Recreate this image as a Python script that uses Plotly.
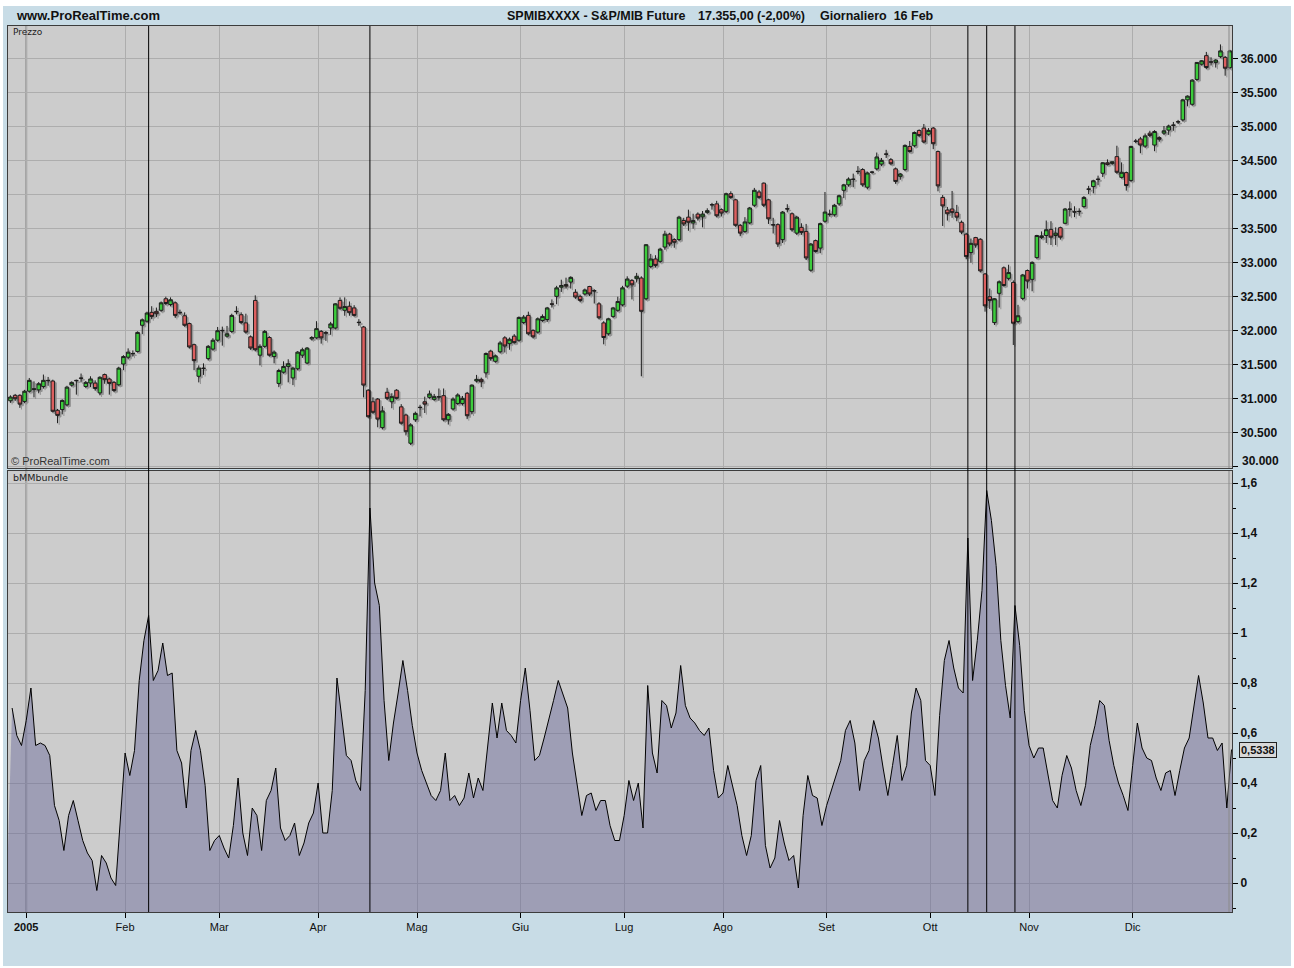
import plotly.graph_objects as go

# ---------------- data ----------------
# trading-day index of month starts (x tick positions) and their labels
month_idx = [3, 24, 44, 65, 86, 108, 130, 151, 173, 195, 216, 238]
month_labels = ["<b>2005</b>", "Feb", "Mar", "Apr", "Mag", "Giu", "Lug", "Ago", "Set", "Ott", "Nov", "Dic"]

# event (vertical black) lines, as trading-day index
event_idx = [29, 76, 203, 207, 213]

open_ = [
    30950, 31030, 31030, 30940, 31090, 31115, 31110, 31160, 31250, 31240,
    30810, 30820, 30890, 31180, 31250, 31285, 31160, 31210, 31210, 31065,
    31335, 31270, 31220, 31185, 31490, 31590, 31640, 31675, 32060, 32120,
    32250, 32265, 32280, 32450, 32365, 32390, 32250, 32200, 32085, 31775,
    31310, 31430, 31570, 31710, 31840, 31985, 31900, 31970, 32265, 32215,
    32095, 31890, 32425, 31620, 31750, 31880, 31600, 31205, 31370, 31455,
    31285, 31420, 31620, 31505, 31860, 31875, 31970, 31955, 32020, 32020,
    32425, 32280, 32340, 32315, 32105, 32035, 31105, 30935, 30975, 30555,
    31075, 30935, 31105, 30860, 30740, 30325, 30670, 30855, 30935, 31000,
    30970, 31010, 31025, 30670, 30830, 30910, 30910, 31060, 30790, 31240,
    31265, 31360, 31680, 31530, 31670, 31875, 31790, 31900, 31840, 32100,
    32205, 31985, 31960, 32130, 32145, 32375, 32485, 32620, 32660, 32695,
    32545, 32485, 32520, 32630, 32570, 32375, 32095, 31935, 32190, 32280,
    32360, 32635, 32720, 32745, 32755, 32450, 32925, 33035, 33000, 33210,
    33400, 33320, 33320, 33600, 33650, 33565, 33695, 33655, 33720, 33835,
    33845, 33760, 33735, 33995, 33905, 33530, 33440, 33565, 33825, 34020,
    34150, 33905, 33540, 33540, 33320, 33775, 33700, 33415, 33500, 33440,
    32870, 33305, 33195, 33590, 33695, 33685, 33845, 34045, 34125, 34210,
    34325, 34350, 34090, 34315, 34360, 34430, 34580, 34495, 34360, 34250,
    34350, 34690, 34700, 34925, 34960, 34870, 34960, 34615, 33940, 33755,
    33770, 33720, 33575, 33400, 33130, 33350, 33325, 32815, 32480, 32100,
    32530, 32905, 32750, 32690, 32115, 32455, 32865, 32735, 33055, 33350,
    33380, 33470, 33380, 33495, 33560, 33770, 33730, 33730, 33805, 34065,
    34100, 34210, 34295, 34450, 34440, 34540, 34235, 34305, 34190, 34770,
    34800, 34695, 34885, 34710, 34820, 34885, 34930, 35005, 35055, 35080,
    35375, 35310, 35675, 35900, 36025, 35935, 35925, 36010, 36000, 35850,
]
high_ = [
    31030, 31050, 31045, 31110, 31285, 31235, 31225, 31335, 31300, 31260,
    30830, 30970, 31170, 31235, 31260, 31350, 31240, 31310, 31250, 31310,
    31350, 31290, 31240, 31450, 31620, 31720, 31690, 31970, 32160, 32260,
    32340, 32320, 32410, 32480, 32470, 32410, 32290, 32250, 32100, 31790,
    31470, 31500, 31770, 31870, 32035, 32040, 32050, 32230, 32340, 32250,
    32230, 31910, 32500, 31780, 31990, 31900, 31690, 31420, 31530, 31560,
    31450, 31680, 31730, 31740, 31900, 32120, 31990, 31975, 32110, 32385,
    32470, 32470, 32410, 32355, 32150, 32050, 31120, 31000, 30990, 30870,
    31140, 31060, 31120, 30900, 30760, 30620, 30790, 30890, 31010, 31100,
    31050, 31130, 31130, 30770, 31000, 31060, 31020, 31080, 31190, 31330,
    31290, 31660, 31700, 31630, 31830, 31900, 31880, 31930, 32190, 32210,
    32260, 32000, 32175, 32220, 32330, 32440, 32640, 32730, 32760, 32780,
    32590, 32510, 32600, 32640, 32590, 32400, 32120, 32170, 32330, 32480,
    32640, 32780, 32740, 32830, 32780, 33255, 33110, 33090, 33200, 33450,
    33420, 33340, 33670, 33640, 33760, 33700, 33720, 33740, 33780, 33860,
    33890, 33780, 34010, 34030, 33920, 33550, 33650, 33800, 34080, 34050,
    34160, 33920, 33640, 33560, 33740, 33840, 33720, 33670, 33560, 33550,
    33270, 33320, 33570, 34020, 33760, 33845, 33980, 34140, 34235, 34290,
    34400, 34370, 34320, 34330, 34600, 34520, 34640, 34520, 34380, 34300,
    34720, 34770, 34910, 34940, 35020, 34960, 34975, 34630, 33975, 33800,
    34035, 33830, 33600, 33420, 33335, 33360, 33340, 32830, 32600, 32460,
    32720, 32925, 32950, 32720, 32360, 32815, 32880, 33000, 33390, 33440,
    33600, 33590, 33500, 33510, 33785, 33880, 33810, 33780, 33960, 34110,
    34200, 34260, 34460, 34500, 34470, 34700, 34455, 34320, 34700, 34800,
    34830, 34880, 34920, 34930, 34840, 34990, 35010, 35050, 35080, 35390,
    35440, 35680, 35930, 35960, 36080, 36000, 35975, 36190, 36020, 36110,
]
low_ = [
    30920, 30950, 30845, 30915, 31070, 31000, 31060, 31130, 31170, 30780,
    30620, 30750, 30870, 31160, 31040, 31220, 31140, 31150, 31100, 31030,
    31200, 31040, 31080, 31170, 31400, 31560, 31600, 31660, 31930, 32100,
    32150, 32180, 32260, 32360, 32340, 32170, 32220, 32040, 31720, 31400,
    31220, 31330, 31545, 31690, 31820, 31760, 31880, 31950, 32220, 32080,
    31940, 31700, 31680, 31470, 31730, 31600, 31500, 31150, 31350, 31220,
    31180, 31400, 31580, 31490, 31840, 31860, 31790, 31830, 31920, 32000,
    32290, 32200, 32200, 32190, 32050, 31000, 30700, 30760, 30560, 30530,
    30960, 30840, 30970, 30600, 30440, 30300, 30640, 30720, 30770, 30980,
    30950, 30950, 30650, 30600, 30810, 30890, 30880, 30680, 30750, 31220,
    31150, 31290, 31540, 31510, 31650, 31660, 31700, 31790, 31820, 32080,
    31915, 31870, 31940, 32110, 32110, 32320, 32370, 32550, 32600, 32600,
    32450, 32400, 32500, 32490, 32380, 32150, 31780, 31910, 32170, 32260,
    32340, 32610, 32440, 32690, 31310, 32430, 32900, 32910, 32980, 33170,
    33220, 33200, 33300, 33520, 33450, 33480, 33600, 33500, 33700, 33760,
    33650, 33660, 33710, 33920, 33510, 33370, 33420, 33550, 33800, 33920,
    33800, 33550, 33410, 33210, 33270, 33720, 33440, 33390, 33390, 33020,
    32850, 33130, 33120, 33570, 33660, 33660, 33820, 33930, 34100, 34090,
    34280, 34100, 34060, 34290, 34340, 34400, 34520, 34420, 34140, 34200,
    34330, 34600, 34680, 34830, 34740, 34850, 34650, 34030, 33520, 33600,
    33640, 33590, 33400, 33030, 32980, 33200, 32840, 32260, 32300, 32065,
    32320, 32630, 32720, 31770, 32090, 32430, 32600, 32560, 33040, 33330,
    33270, 33240, 33240, 33320, 33550, 33660, 33650, 33670, 33790, 33990,
    34000, 34120, 34240, 34410, 34420, 34290, 34220, 34040, 34170, 34740,
    34590, 34670, 34830, 34620, 34760, 34860, 34860, 34920, 35020, 35060,
    35280, 35290, 35655, 35880, 35830, 35880, 35850, 35990, 35730, 35830,
]
close_ = [
    31005, 30980, 30900, 31090, 31250, 31125, 31200, 31250, 31245, 30795,
    30735, 30955, 31150, 31220, 31245, 31280, 31220, 31270, 31130, 31295,
    31260, 31205, 31100, 31430, 31600, 31665, 31645, 31955, 32140, 32240,
    32190, 32230, 32390, 32380, 32435, 32205, 32245, 32060, 31740, 31540,
    31430, 31425, 31750, 31840, 31980, 31980, 31935, 32205, 32260, 32100,
    31960, 31725, 31700, 31750, 31970, 31620, 31665, 31395, 31455, 31495,
    31430, 31665, 31700, 31725, 31880, 32010, 31875, 31945, 32080, 32375,
    32310, 32335, 32245, 32205, 32100, 31180, 30715, 30780, 30680, 30800,
    30985, 31010, 30985, 30620, 30495, 30595, 30765, 30850, 30900, 31050,
    31010, 31005, 30670, 30750, 30975, 31035, 30985, 30730, 31180, 31265,
    31230, 31645, 31570, 31610, 31800, 31755, 31855, 31805, 32175, 32180,
    31935, 31890, 32155, 32190, 32315, 32370, 32610, 32645, 32635, 32765,
    32475, 32425, 32580, 32520, 32565, 32170, 31880, 32155, 32315, 32410,
    32610, 32740, 32655, 32780, 32265, 33245, 33035, 32940, 33180, 33400,
    33255, 33280, 33650, 33550, 33575, 33600, 33635, 33695, 33745, 33830,
    33670, 33710, 33995, 33940, 33530, 33415, 33580, 33785, 34045, 33940,
    33825, 33625, 33535, 33255, 33725, 33770, 33465, 33650, 33425, 33050,
    33255, 33145, 33555, 33725, 33690, 33825, 33965, 34125, 34210, 34205,
    34320, 34125, 34300, 34310, 34535, 34485, 34575, 34435, 34175, 34285,
    34705, 34615, 34895, 34850, 34755, 34925, 34730, 34110, 33815, 33700,
    33720, 33650, 33430, 33070, 33265, 33240, 32860, 32345, 32425, 32450,
    32700, 32645, 32835, 32090, 32200, 32800, 32710, 32985, 33380, 33375,
    33465, 33355, 33415, 33355, 33770, 33765, 33725, 33735, 33940, 34060,
    34185, 34205, 34450, 34425, 34465, 34310, 34310, 34115, 34690, 34765,
    34710, 34845, 34850, 34910, 34795, 34920, 34990, 35000, 35050, 35375,
    35430, 35665, 35925, 35950, 35850, 35930, 35960, 36095, 35840, 36095,
]
bmm = [
    0.70, 0.59, 0.55, 0.65, 0.78, 0.55, 0.56, 0.55, 0.51, 0.31,
    0.25, 0.13, 0.27, 0.33, 0.25, 0.17, 0.12, 0.09, -0.03, 0.11,
    0.08, 0.02, -0.01, 0.25, 0.52, 0.43, 0.53, 0.81, 0.97, 1.07,
    0.81, 0.85, 0.96, 0.83, 0.84, 0.53, 0.48, 0.30, 0.53, 0.61,
    0.53, 0.39, 0.13, 0.17, 0.19, 0.14, 0.10, 0.23, 0.42, 0.20,
    0.11, 0.30, 0.27, 0.13, 0.33, 0.37, 0.46, 0.22, 0.17, 0.19,
    0.24, 0.11, 0.16, 0.24, 0.28, 0.40, 0.20, 0.20, 0.37, 0.82,
    0.67, 0.51, 0.49, 0.41, 0.37, 0.77, 1.50, 1.20, 1.11, 0.73,
    0.49, 0.64, 0.76, 0.89, 0.77, 0.63, 0.52, 0.45, 0.40, 0.35,
    0.33, 0.37, 0.52, 0.33, 0.35, 0.31, 0.34, 0.44, 0.34, 0.42,
    0.37, 0.54, 0.72, 0.58, 0.72, 0.61, 0.59, 0.56, 0.73, 0.86,
    0.69, 0.49, 0.51, 0.58, 0.65, 0.73, 0.81, 0.75, 0.70, 0.52,
    0.39, 0.27, 0.35, 0.36, 0.29, 0.33, 0.33, 0.23, 0.17, 0.17,
    0.27, 0.41, 0.33, 0.40, 0.22, 0.79, 0.52, 0.44, 0.73, 0.71,
    0.62, 0.68, 0.87, 0.71, 0.66, 0.64, 0.61, 0.59, 0.62, 0.45,
    0.34, 0.36, 0.47, 0.39, 0.31, 0.19, 0.11, 0.19, 0.41, 0.47,
    0.15, 0.06, 0.10, 0.25, 0.16, 0.09, 0.11, -0.02, 0.27, 0.43,
    0.35, 0.34, 0.23, 0.31, 0.37, 0.43, 0.49, 0.61, 0.65, 0.56,
    0.37, 0.49, 0.53, 0.65, 0.58, 0.46, 0.35, 0.47, 0.59, 0.41,
    0.47, 0.68, 0.78, 0.73, 0.49, 0.47, 0.35, 0.67, 0.89, 0.97,
    0.86, 0.78, 0.76, 1.38, 0.81, 0.97, 1.17, 1.57, 1.45, 1.27,
    0.97, 0.79, 0.66, 1.11, 0.95, 0.69, 0.55, 0.50, 0.54, 0.54,
    0.44, 0.33, 0.30, 0.43, 0.51, 0.46, 0.37, 0.31, 0.39, 0.55,
    0.63, 0.73, 0.71, 0.57, 0.47, 0.40, 0.35, 0.29, 0.47, 0.64,
    0.54, 0.50, 0.49, 0.42, 0.37, 0.44, 0.45, 0.35, 0.45, 0.54,
    0.58, 0.71, 0.83, 0.72, 0.58, 0.58, 0.53, 0.56, 0.30, 0.5338,
]
last_value_label = "0,5338"

price_ticks = [30000, 30500, 31000, 31500, 32000, 32500, 33000, 33500, 34000, 34500, 35000, 35500, 36000]
price_tick_labels = ["", "30.500", "31.000", "31.500", "32.000", "32.500", "33.000", "33.500",
                     "34.000", "34.500", "35.000", "35.500", "36.000"]
ind_ticks = [0, 0.2, 0.4, 0.6, 0.8, 1.0, 1.2, 1.4, 1.6]
ind_tick_labels = ["0", "0,2", "0,4", "0,6", "0,8", "1", "1,2", "1,4", "1,6"]
ind_minor_ticks = [-0.1, 0.1, 0.3, 0.5, 0.7, 0.9, 1.1, 1.3, 1.5]

# ---------------- styling / geometry ----------------
W, H = 1294, 968
PL, PR, PT, PB = 8, 1232, 26, 912          # plot area in pixels
TOP_BOTTOM_PX, BOT_TOP_PX = 468, 471       # panel split
PW, PH = PR - PL, PB - PT

def px_x(px):
    return (px - PL) / PW

def px_y(py):
    return (PB - py) / PH

BLUE = "#c8dce6"
PANEL = "#cccccc"
GRID = "#adadad"
BORDER = "#3c3c3c"
GREEN = "#3ccc3c"
RED = "#dc5f5f"
EDGE = "#1e1e1e"
SHADOW = "#8a8a8a"
FILL = "rgba(95,95,150,0.42)"
FONT = "Liberation Sans, Arial, sans-serif"
SMALLFONT = "DejaVu Sans, Verdana, sans-serif"

x = list(range(len(close_)))
xrange_ = [-0.87, 259.1]
yrange_ = [29985, 36485]
# drop-shadow offset of the candles (axis units: ~1.6 px right, ~1.6 px down)
SH_DX, SH_DY = 0.35, 24

fig = go.Figure()

# shadow candles (base axes)
fig.add_trace(go.Candlestick(
    x=x, open=open_, high=high_, low=low_, close=close_,
    increasing=dict(fillcolor=SHADOW, line=dict(color=SHADOW, width=1)),
    decreasing=dict(fillcolor=SHADOW, line=dict(color=SHADOW, width=1)),
    whiskerwidth=0, xaxis="x", yaxis="y", showlegend=False, hoverinfo="skip",
    opacity=0.85,
))
# real candles on overlay axes shifted so the shadow falls right / below
fig.add_trace(go.Candlestick(
    x=x, open=open_, high=high_, low=low_, close=close_,
    increasing=dict(fillcolor=GREEN, line=dict(color=EDGE, width=1)),
    decreasing=dict(fillcolor=RED, line=dict(color=EDGE, width=1)),
    whiskerwidth=0, xaxis="x3", yaxis="y3", showlegend=False, hoverinfo="skip",
))

# baseline for the area fill (below the visible range)
fig.add_trace(go.Scatter(
    x=[xrange_[0] - 1, xrange_[1] + 1], y=[-0.5, -0.5], mode="lines",
    line=dict(width=0, color="rgba(0,0,0,0)"), xaxis="x2", yaxis="y2",
    showlegend=False, hoverinfo="skip",
))
fig.add_trace(go.Scatter(
    x=x, y=bmm, mode="lines", line=dict(color="#000000", width=1),
    fill="tonexty", fillcolor=FILL, xaxis="x2", yaxis="y2",
    showlegend=False, hoverinfo="skip",
))

top_dom = [px_y(TOP_BOTTOM_PX), 1.0]
bot_dom = [0.0, px_y(BOT_TOP_PX)]

tickfont_y = dict(family=FONT, size=12, color="#111111")

fig.update_layout(
    width=W, height=H,
    margin=dict(l=PL, r=W - PR, t=PT, b=H - PB, pad=0),
    paper_bgcolor=BLUE, plot_bgcolor=PANEL,
    showlegend=False,
    boxgap=0.25, boxgroupgap=0.0,
    xaxis=dict(
        domain=[0, 1], anchor="y", range=xrange_, tickmode="array", tickvals=month_idx,
        showticklabels=False, ticks="", showgrid=True, gridcolor=GRID, gridwidth=1,
        showline=True, linecolor=BORDER, linewidth=1, mirror=True, zeroline=False,
        rangeslider=dict(visible=False), fixedrange=True,
    ),
    xaxis3=dict(
        overlaying="x", anchor="y3", range=[xrange_[0] + SH_DX, xrange_[1] + SH_DX],
        visible=False, showgrid=False, zeroline=False, rangeslider=dict(visible=False),
    ),
    xaxis2=dict(
        domain=[0, 1], anchor="y2", range=xrange_, tickmode="array",
        tickvals=month_idx, ticktext=month_labels, ticks="outside", ticklen=5,
        tickcolor="#000000", tickwidth=1, showgrid=True, gridcolor=GRID, gridwidth=1,
        showline=True, linecolor=BORDER, linewidth=1, mirror=True, zeroline=False,
        tickfont=dict(family=FONT, size=11, color="#111111"),
    ),
    yaxis=dict(
        domain=top_dom, anchor="x", side="right", range=yrange_,
        tickmode="array", tickvals=price_ticks,
        ticktext=["<b>%s</b>" % t if t else "" for t in price_tick_labels],
        ticks="outside", ticklen=5, tickcolor="#000000", tickwidth=1,
        showgrid=True, gridcolor=GRID, gridwidth=1, zeroline=False,
        showline=True, linecolor=BORDER, linewidth=1, mirror=True,
        tickfont=tickfont_y,
    ),
    yaxis3=dict(
        overlaying="y", anchor="x3", range=[yrange_[0] - SH_DY, yrange_[1] - SH_DY],
        visible=False, showgrid=False, zeroline=False,
    ),
    yaxis2=dict(
        domain=bot_dom, anchor="x2", side="right", range=[-0.116, 1.648],
        tickmode="array", tickvals=ind_ticks,
        ticktext=["<b>%s</b>" % t for t in ind_tick_labels],
        ticks="outside", ticklen=5, tickcolor="#000000", tickwidth=1,
        minor=dict(tickvals=ind_minor_ticks, ticks="outside", ticklen=3,
                   tickcolor="#000000", showgrid=False),
        showgrid=True, gridcolor=GRID, gridwidth=1, zeroline=False,
        showline=True, linecolor=BORDER, linewidth=1, mirror=True,
        tickfont=tickfont_y,
    ),
)

shapes = []
# white outer border strips
for (x0, x1, y0, y1) in [
    (0, W, 0, 6), (0, 3, 0, H), (W - 3, W, 0, H), (0, W, H - 2, H)
]:
    shapes.append(dict(type="rect", xref="paper", yref="paper",
                       x0=px_x(x0), x1=px_x(x1), y0=px_y(y1), y1=px_y(y0),
                       fillcolor="#ffffff", line=dict(width=0), layer="above"))
# thicker year grid line
shapes.append(dict(type="line", xref="x", yref="paper", x0=month_idx[0], x1=month_idx[0],
                   y0=0, y1=1, line=dict(color="#9a9a9a", width=2), layer="below"))
# thin inner line near right border of each panel
for (y0, y1) in [(top_dom[0], top_dom[1]), (bot_dom[0], bot_dom[1])]:
    shapes.append(dict(type="line", xref="paper", yref="paper", x0=px_x(1229), x1=px_x(1229),
                       y0=y0, y1=y1, line=dict(color="#8a8a8a", width=1), layer="above"))
# black event lines
for e in event_idx:
    shapes.append(dict(type="line", xref="x", yref="paper", x0=e, x1=e, y0=0, y1=1,
                       line=dict(color="#000000", width=1), layer="above"))
fig.update_layout(shapes=shapes)

ann = []
ann.append(dict(text="<b>www.ProRealTime.com</b>", xref="paper", yref="paper",
                x=px_x(14), y=px_y(16), xanchor="left", yanchor="middle", showarrow=False,
                font=dict(family=FONT, size=13, color="#111111")))
for txt, xpos in [("SPMIBXXXX - S&P/MIB Future", 505), ("17.355,00 (-2,00%)", 696),
                  ("Giornaliero\u00a0\u00a016 Feb", 818)]:
    ann.append(dict(text="<b>%s</b>" % txt, xref="paper", yref="paper",
                    x=px_x(xpos), y=px_y(16), xanchor="left", yanchor="middle", showarrow=False,
                    font=dict(family=FONT, size=12.5, color="#111111")))
ann.append(dict(text="Prezzo", xref="paper", yref="paper", x=px_x(11), y=px_y(32),
                xanchor="left", yanchor="middle", showarrow=False,
                font=dict(family=SMALLFONT, size=9, color="#222222")))
ann.append(dict(text="bMMbundle", xref="paper", yref="paper", x=px_x(11), y=px_y(478),
                xanchor="left", yanchor="middle", showarrow=False,
                font=dict(family=SMALLFONT, size=9.5, color="#222222")))
ann.append(dict(text="\u00a9 ProRealTime.com", xref="paper", yref="paper", x=px_x(9), y=px_y(461),
                xanchor="left", yanchor="middle", showarrow=False,
                font=dict(family=FONT, size=11, color="#333333")))
ann.append(dict(text="<b>30.000</b>", xref="paper", yref="paper", x=px_x(1240), y=px_y(461),
                xanchor="left", yanchor="middle", showarrow=False, font=tickfont_y))
ann.append(dict(text="<b>%s</b>" % last_value_label, xref="paper", yref="y2",
                x=px_x(1239), y=bmm[-1], xanchor="left", yanchor="middle", showarrow=False,
                font=dict(family=FONT, size=11, color="#111111"),
                bgcolor="#d8d8d8", bordercolor="#222222", borderwidth=1, borderpad=1))
fig.update_layout(annotations=ann)

fig.write_html(
    "out.html",
    config={"displayModeBar": False},
    post_script="document.body.style.margin='0';document.body.style.padding='0';"
                "document.documentElement.style.overflow='hidden';",
)
